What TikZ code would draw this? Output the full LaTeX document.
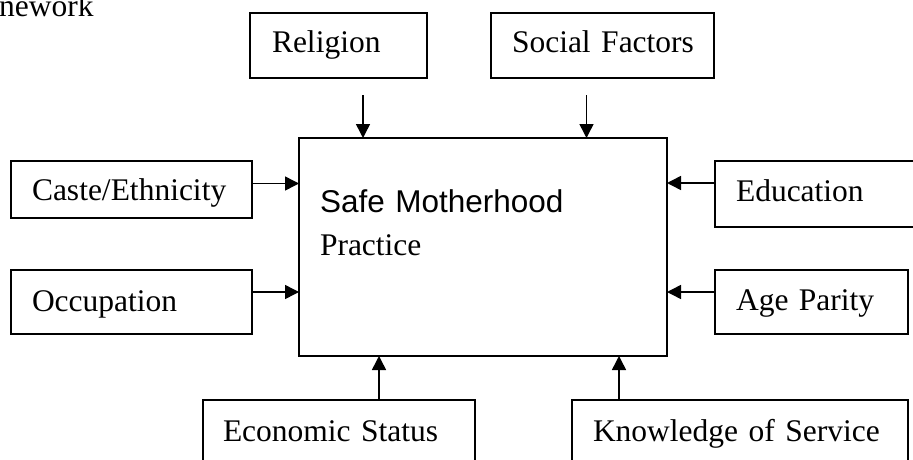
\documentclass[tikz,border=0pt]{standalone}
\usepackage{fontspec}
\setmainfont{Liberation Serif}
\newfontfamily\arialfont{Liberation Sans}
\usetikzlibrary{arrows.meta}

\begin{document}
\begin{tikzpicture}[x=1pt, y=-1pt,
  every node/.style={font=\fontsize{31.5}{43}\selectfont},
  factor/.style={draw, line width=1.6pt, anchor=north west, outer sep=0pt,
    inner ysep=0pt, align=left},
  link/.style={line width=1.5pt, -{Triangle[length=14pt, width=14pt]}}]

\path[use as bounding box] (0,0) rectangle (913,460);
\clip (0,0) rectangle (913,460);

% heading fragment
\node[anchor=base west, inner sep=0pt] (title) at (-1,17) {nework};

% central box
\node[factor, inner xsep=21pt, text width=326pt, text height=74pt, text depth=144pt]
  (main) at (299,138) {\mbox{\arialfont Safe Motherhood}\\\mbox{Practice}};

% influencing factors
\node[factor, inner xsep=22pt, text width=133pt, text height=40pt, text depth=25pt]
  (rel) at (250,13) {\mbox{Religion}};
\node[factor, inner xsep=21pt, text width=181pt, text height=40pt, text depth=25pt]
  (soc) at (491,13) {\mbox{Social Factors}};
\node[factor, inner xsep=21pt, text width=199pt, text height=39pt, text depth=18pt]
  (caste) at (11,161) {\mbox{Caste/Ethnicity}};
\node[factor, inner xsep=21pt, text width=199pt, text height=41pt, text depth=23pt]
  (occ) at (11,270) {\mbox{Occupation}};
\node[factor, inner xsep=21pt, text width=200pt, text height=40pt, text depth=26pt]
  (edu) at (715,161) {\mbox{Education}};
\node[factor, inner xsep=21pt, text width=151pt, text height=40pt, text depth=24pt]
  (age) at (715,270) {\mbox{Age Parity}};
\node[factor, inner xsep=20pt, text width=232pt, text height=41pt, text depth=50pt]
  (eco) at (203,400) {\mbox{Economic Status}};
\node[factor, inner xsep=21pt, text width=294pt, text height=41pt, text depth=50pt]
  (know) at (572,400) {\mbox{Knowledge of Service}};

% connectors into the central box
\draw[link] ([xshift=24.5pt, yshift=-17pt]rel.south) -- ([xshift=24.5pt]rel.south |- main.north);
\draw[link] ([xshift=-16pt, yshift=-17pt]soc.south) -- ([xshift=-16pt]soc.south |- main.north);
\draw[link] ([yshift=6pt]caste.east) -- ([yshift=6pt]caste.east -| main.west);
\draw[link] ([yshift=10pt]occ.east) -- ([yshift=10pt]occ.east -| main.west);
\draw[link] ([yshift=11pt]edu.west) -- ([yshift=11pt]edu.west -| main.east);
\draw[link] ([yshift=10pt]age.west) -- ([yshift=10pt]age.west -| main.east);
\draw[link] ([xshift=40pt]eco.north) -- ([xshift=40pt]eco.north |- main.south);
\draw[link] ([xshift=-121pt]know.north) -- ([xshift=-121pt]know.north |- main.south);

\end{tikzpicture}
\end{document}
